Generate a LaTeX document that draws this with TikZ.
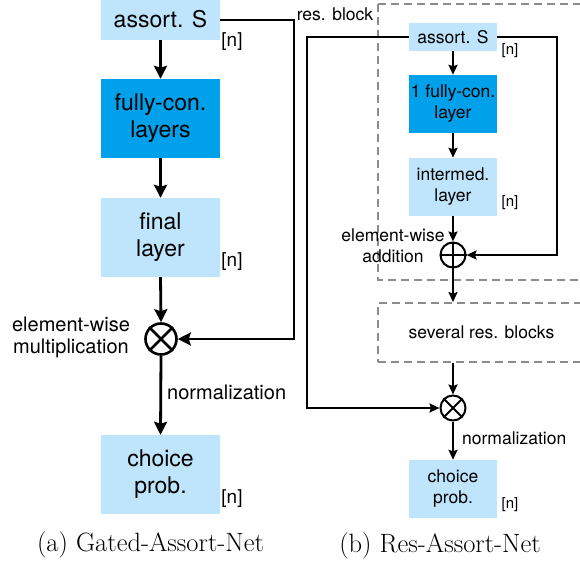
\documentclass[tikz,border=0pt]{standalone}
\usepackage{fontspec}
\newfontfamily\hv{TeX Gyre Heros}
\usetikzlibrary{arrows.meta}
\definecolor{lb}{RGB}{190,229,251}
\definecolor{db}{RGB}{0,161,234}
\definecolor{dg}{RGB}{140,140,140}
\begin{document}
\begin{tikzpicture}[x=1pt,y=-1pt,
  lbox/.style={fill=lb, draw=none, minimum width=119pt, minimum height=79pt, inner sep=0pt, align=center, font=\hv\fontsize{23}{27}\selectfont},
  dbox/.style={lbox, fill=db},
  rlbox/.style={fill=lb, draw=none, minimum width=88pt, minimum height=58pt, inner sep=0pt, align=center, font=\hv\fontsize{17.5}{21}\selectfont},
  rdbox/.style={rlbox, fill=db},
  lcirc/.style={circle, draw, line width=2.6pt, minimum size=31pt, inner sep=0pt},
  rcirc/.style={circle, draw, line width=2pt, minimum size=25pt, inner sep=0pt},
  larr/.style={line width=2.8pt, -{Stealth[length=13pt,width=13pt,inset=2pt]}},
  rarr/.style={line width=2pt, -{Stealth[length=10pt,width=9pt,inset=1.5pt]}},
  dashbox/.style={draw=dg, dash pattern=on 8pt off 5pt, line width=1.8pt, inner sep=0pt},
  nlab/.style={font=\hv\fontsize{19}{21}\selectfont, inner sep=0pt},
  rnlab/.style={font=\hv\fontsize{15}{17}\selectfont, inner sep=0pt},
  ltxt/.style={font=\hv\fontsize{20}{21.5}\selectfont, inner sep=0pt, align=center},
  rtxt/.style={font=\hv\fontsize{17.5}{21}\selectfont, inner sep=0pt, align=center},
  captxt/.style={font=\fontsize{26.5}{30}\selectfont, inner sep=0pt}]
\useasboundingbox (0,0) rectangle (580,564);
\clip (0,0) rectangle (580,564);

% ---------- (a) Gated-Assort-Net ----------
\node[lbox, minimum height=42pt] (a1) at (160.5,19) {assort. S};
\node[dbox] (a2) at (160.5,118.5) {fully-con.\\layers};
\node[lbox] (a3) at (160.5,237.5) {final\\layer};
\node[lcirc] (a4) at (161,339) {};
\draw[line width=2.6pt] (a4.north west) -- (a4.south east) (a4.north east) -- (a4.south west);
\node[lbox] (a5) at (160.5,474.5) {choice\\prob.};

\node[nlab] (an1) at (232,42) {[n]};
\node[nlab] (an2) at (232,262) {[n]};
\node[nlab] (an3) at (232,499) {[n]};
\node[ltxt] (am) at (71,337.5) {element-wise\\multiplication};
\node[ltxt, anchor=west] (anorm) at (167,392) {normalization};

\draw[larr] (a1.south) -- (a2.north);
\draw[larr] (a2.south) -- (a3.north);
\draw[larr] (a3.south) -- (a4.north);
\draw[larr] (a4.south) -- (a5.north);
\coordinate (c1) at (294,20);
\draw[larr] (a1.east |- c1) -- (c1) |- (a4.east);

\node[captxt] (capa) at (150.5,545) {(a) Gated-Assort-Net};

% ---------- (b) Res-Assort-Net ----------
\draw[dashbox] (378,4) rectangle (600,280);
\node[rtxt] (rbl) at (335,14) {res. block};
\node[rlbox, minimum height=28pt] (b1) at (453,37) {assort. S};
\node[rdbox] (b2) at (453,104) {1 fully-con.\\layer};
\node[rlbox] (b3) at (453,187) {intermed.\\layer};
\node[rcirc] (b4) at (453,255) {};
\draw[line width=2pt] (b4.north) -- (b4.south) (b4.west) -- (b4.east);
\node[dashbox, minimum width=222pt, minimum height=59pt] (b5) at (489,332.5) {};
\node[rtxt] (b5t) at (481.5,332) {several res. blocks};
\node[rcirc] (b6) at (453,408) {};
\draw[line width=2pt] (b6.north west) -- (b6.south east) (b6.north east) -- (b6.south west);
\node[rlbox] (b7) at (453,489) {choice\\prob.};

\node[rnlab] (bn1) at (510,51) {[n]};
\node[rnlab] (bn2) at (510,203) {[n]};
\node[rnlab] (bn3) at (510,505) {[n]};
\node[rtxt] (badd) at (393,246) {element-wise\\addition};
\node[rtxt, anchor=west] (bnorm) at (462,438) {normalization};

\draw[rarr] (b1.south) -- (b2.north);
\draw[rarr] (b2.south) -- (b3.north);
\draw[rarr] (b3.south) -- (b4.north);
\draw[rarr] (b4.south) -- (b4.south |- b5.north);
\draw[rarr] (b6.north |- b5.south) -- (b6.north);
\draw[rarr] (b6.south) -- (b7.north);
\coordinate (r1) at (557,37);
\draw[rarr] (b1.east) -- (r1) |- (b4.east);
\coordinate (r2) at (307,37);
\draw[rarr] (b1.west) -- (r2) |- (b6.west);

\node[captxt] (capb) at (440,546) {(b) Res-Assort-Net};
\end{tikzpicture}
\end{document}
